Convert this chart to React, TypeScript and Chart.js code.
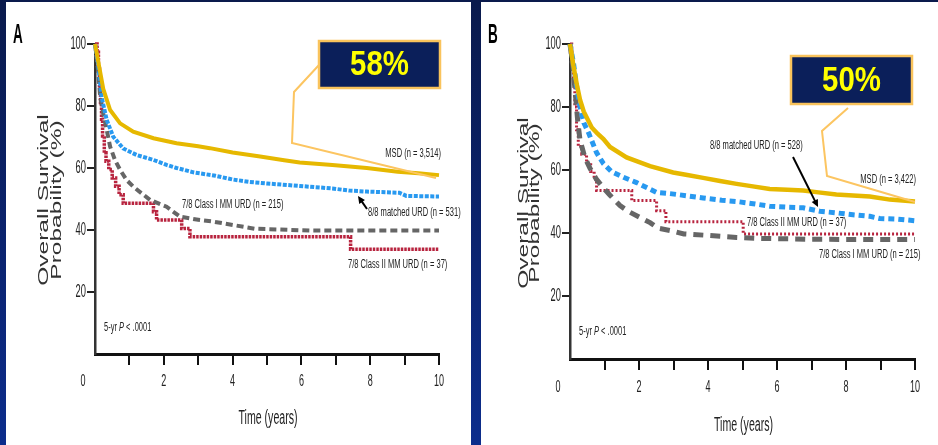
import React, { useEffect, useRef } from "react";
import { Chart, registerables } from "chart.js";

Chart.register(...registerables);

// ---------- shared axis text ----------
const xTickValues = [0, 2, 4, 6, 8, 10];
const yTickValues = [20, 40, 60, 80, 100];
const xAxisTitle = "Time (years)";
const yAxisTitle = ["Overall Survival", "Probability (%)"];
const pValueText = ["5-yr ", "P", " < .0001"];
const panelLetters = ["A", "B"];
const calloutValues = ["58%", "50%"];

// ---------- Panel A data (time in years, survival %) ----------
const aSeriesLabels = [
  "MSD (n = 3,514)",
  "8/8 matched URD (n = 531)",
  "7/8 Class I MM URD (n = 215)",
  "7/8 Class II MM URD (n = 37)",
];
const aMsdTime = [0, 0.1, 0.24, 0.44, 0.73, 1.11, 1.7, 2.37, 3.0, 3.34, 4.0, 4.8, 5.5, 5.95, 6.9, 7.9, 8.8, 9.4, 10];
const aMsdSurv = [100, 94, 85.5, 78.7, 74.4, 71.7, 69.6, 68, 67, 66.4, 65, 63.7, 62.5, 61.8, 61, 60, 58.8, 58.3, 57.7];
const aMatchedTime = [0, 0.1, 0.19, 0.34, 0.53, 0.82, 1.21, 1.7, 2.08, 2.37, 2.86, 3.5, 4.0, 4.5, 5.0, 5.95, 6.9, 7.4, 7.9, 8.85, 9.05, 10];
const aMatchedSurv = [100, 92.7, 83, 75.5, 70.1, 66.3, 64.2, 62.6, 61, 60, 58.6, 57.5, 56.3, 55.5, 55, 54.2, 53.4, 52.7, 52.4, 52, 51, 50.8];
const aClassITime = [0, 0.1, 0.15, 0.24, 0.34, 0.44, 0.58, 0.73, 0.92, 1.11, 1.36, 1.6, 2.08, 2.47, 3.05, 3.44, 4.02, 4.65, 6.3, 10];
const aClassISurv = [100, 90.5, 83, 77.6, 72.3, 66.9, 62.6, 59.4, 56.1, 54, 51.8, 49.7, 47.5, 44.3, 43.2, 42.7, 41.6, 40.4, 39.8, 39.8];
const aClassIITime = [0, 0.06, 0.1, 0.13, 0.16, 0.19, 0.22, 0.27, 0.32, 0.4, 0.5, 0.6, 0.7, 0.82, 1.7, 1.79, 2.52, 2.76, 7.43, 10];
const aClassIISurv = [100, 97.3, 91.9, 86.5, 81.1, 75.7, 70.3, 64.9, 62.2, 59.5, 56.8, 54.1, 51.4, 48.6, 45.9, 43.2, 40.5, 37.8, 33.8, 33.8];

// ---------- Panel B data ----------
const bSeriesLabels = [
  "MSD (n = 3,422)",
  "8/8 matched URD (n = 528)",
  "7/8 Class I MM URD (n = 215)",
  "7/8 Class II MM URD (n = 37)",
];
const bMsdTime = [0, 0.1, 0.2, 0.29, 0.4, 0.63, 0.8, 0.97, 1.16, 1.64, 1.93, 2.32, 2.99, 3.4, 3.86, 4.35, 4.83, 5.3, 5.79, 6.3, 6.76, 7.2, 7.72, 8.2, 8.69, 9.27, 10];
const bMsdSurv = [100, 93, 87, 82.3, 78.5, 73.5, 71.5, 69.8, 67.3, 64, 62.8, 61.2, 59.2, 58.4, 57.5, 56.5, 55.6, 54.8, 54, 53.7, 53.5, 52.9, 52.2, 51.9, 51.6, 50.6, 50];
const bMatchedTime = [0, 0.1, 0.2, 0.29, 0.4, 0.55, 0.77, 0.97, 1.2, 1.55, 1.93, 2.3, 2.51, 2.9, 3.4, 3.86, 4.4, 4.83, 5.31, 5.79, 6.3, 6.76, 7.24, 7.72, 8.2, 8.69, 8.98, 9.5, 10];
const bMatchedSurv = [100, 94, 86, 80, 75, 71.5, 65.5, 62, 59.5, 57.7, 56, 54, 52.9, 52.5, 51.8, 51.1, 50.4, 50, 49.3, 48.5, 48.2, 48, 46.9, 46.4, 45.8, 45.3, 44.6, 44.4, 43.9];
const bClassITime = [0, 0.08, 0.15, 0.22, 0.29, 0.43, 0.58, 0.77, 0.97, 1.16, 1.45, 1.7, 2.05, 2.32, 2.56, 2.9, 3.3, 3.9, 4.83, 5.5, 7.0, 10];
const bClassISurv = [100, 93, 85, 76, 69.5, 64, 60.5, 57, 54.3, 52, 48.7, 46.8, 44.8, 43.3, 41.5, 40.8, 39.7, 39.3, 38.6, 38.3, 38, 37.9];
const bClassIITime = [0, 0.05, 0.1, 0.14, 0.19, 0.24, 0.34, 0.48, 0.6, 0.7, 0.77, 1.79, 2.51, 2.78, 5.02, 10];
const bClassIISurv = [100, 95, 88, 80, 72.8, 67.5, 65, 62.2, 59.5, 57, 53.5, 50.3, 47.1, 43.6, 39.7, 39.7];

const FONT = '"Liberation Sans", Arial, sans-serif';
const GOLD = "#e6b800";
const BLUE = "#2899f0";
const GREY = "#666666";
const RED = "#b8243f";
const INK = "#222222";

type TxtOpt = {
  size: number;
  sx?: number;
  bold?: boolean;
  italic?: boolean;
  color?: string;
  align?: CanvasTextAlign;
  baseline?: CanvasTextBaseline;
  rot?: boolean;
};

function txt(ctx: CanvasRenderingContext2D, s: string, x: number, y: number, o: TxtOpt) {
  ctx.save();
  ctx.font = `${o.italic ? "italic " : ""}${o.bold ? "bold " : ""}${o.size}px ${FONT}`;
  ctx.fillStyle = o.color || INK;
  ctx.textAlign = o.align || "left";
  ctx.textBaseline = o.baseline || "middle";
  ctx.translate(x, y);
  ctx.scale(o.sx ?? 1, 1);
  if (o.rot) ctx.rotate(-Math.PI / 2);
  ctx.fillText(s, 0, 0);
  ctx.restore();
}

function runs(ctx: CanvasRenderingContext2D, parts: string[], italicIdx: number, x: number, y: number, size: number, sx: number) {
  let cx = x;
  parts.forEach((p, i) => {
    const it = i === italicIdx;
    ctx.save();
    ctx.font = `${it ? "italic " : ""}${size}px ${FONT}`;
    const w = ctx.measureText(p).width * sx;
    ctx.restore();
    txt(ctx, p, cx, y, { size, sx, italic: it });
    cx += w;
  });
}

function arrow(ctx: CanvasRenderingContext2D, x1: number, y1: number, x2: number, y2: number) {
  ctx.save();
  ctx.strokeStyle = "#000";
  ctx.fillStyle = "#000";
  ctx.lineWidth = 2;
  const ang = Math.atan2(y2 - y1, x2 - x1);
  const hx = x2 - Math.cos(ang) * 6;
  const hy = y2 - Math.sin(ang) * 6;
  ctx.beginPath();
  ctx.moveTo(x1, y1);
  ctx.lineTo(hx, hy);
  ctx.stroke();
  ctx.beginPath();
  ctx.moveTo(x2, y2);
  ctx.lineTo(x2 - Math.cos(ang - 0.45) * 8, y2 - Math.sin(ang - 0.45) * 8);
  ctx.lineTo(x2 - Math.cos(ang + 0.45) * 8, y2 - Math.sin(ang + 0.45) * 8);
  ctx.closePath();
  ctx.fill();
  ctx.restore();
}

type Panel = {
  letter: string;
  callout: string;
  width: number;
  area: { left: number; right: number; top: number; bottom: number };
  series: { label: string; t: number[]; v: number[]; color: string; width: number; dash: number[]; stepped?: boolean }[];
  labels: { i: number; x: number; y: number; align: CanvasTextAlign }[];
  arrow: number[];
  box: number[];
  line: number[];
  pY: number;
  yTitleX: number[];
  yTitleY: number;
  xTitleY: number;
  xLabelY: number;
  letterX: number;
};

const panelA: Panel = {
  letter: panelLetters[0],
  callout: calloutValues[0],
  width: 470,
  area: { left: 95, right: 439, top: 44, bottom: 354 },
  series: [
    { label: aSeriesLabels[0], t: aMsdTime, v: aMsdSurv, color: GOLD, width: 4, dash: [] },
    { label: aSeriesLabels[1], t: aMatchedTime, v: aMatchedSurv, color: BLUE, width: 4, dash: [4, 1.5] },
    { label: aSeriesLabels[2], t: aClassITime, v: aClassISurv, color: GREY, width: 4, dash: [7, 4] },
    { label: aSeriesLabels[3], t: aClassIITime, v: aClassIISurv, color: RED, width: 3.5, dash: [2.5, 1], stepped: true },
  ],
  labels: [
    { i: 0, x: 441, y: 154, align: "right" },
    { i: 1, x: 368, y: 213, align: "left" },
    { i: 2, x: 182, y: 205, align: "left" },
    { i: 3, x: 348, y: 265, align: "left" },
  ],
  arrow: [367, 209, 358, 196],
  box: [319, 41, 121, 47],
  line: [319, 65, 294, 92, 292, 143, 436, 178],
  pY: 328,
  yTitleX: [44, 57],
  yTitleY: 200,
  xTitleY: 418,
  xLabelY: 381,
  letterX: 13,
};

const panelB: Panel = {
  letter: panelLetters[1],
  callout: calloutValues[1],
  width: 468,
  area: { left: 100, right: 445, top: 44, bottom: 359 },
  series: [
    { label: bSeriesLabels[0], t: bMsdTime, v: bMsdSurv, color: GOLD, width: 4.5, dash: [] },
    { label: bSeriesLabels[1], t: bMatchedTime, v: bMatchedSurv, color: BLUE, width: 5, dash: [6, 4] },
    { label: bSeriesLabels[2], t: bClassITime, v: bClassISurv, color: GREY, width: 5, dash: [10, 7] },
    { label: bSeriesLabels[3], t: bClassIITime, v: bClassIISurv, color: RED, width: 3, dash: [2, 2], stepped: true },
  ],
  labels: [
    { i: 0, x: 446, y: 180, align: "right" },
    { i: 1, x: 240, y: 146, align: "left" },
    { i: 2, x: 349, y: 255, align: "left" },
    { i: 3, x: 277, y: 223, align: "left" },
  ],
  arrow: [323, 157, 348, 207],
  box: [321, 56, 121, 48],
  line: [378, 108, 352, 131, 357, 176, 445, 202],
  pY: 332,
  yTitleX: [54, 65],
  yTitleY: 203,
  xTitleY: 425,
  xLabelY: 387,
  letterX: 18,
};

function makeChart(canvas: HTMLCanvasElement, p: Panel) {
  const H = 445;
  const yW = 12;
  const xH = 14;
  const decor = {
    id: "decor",
    afterDraw(chart: any) {
      const ctx = chart.ctx as CanvasRenderingContext2D;
      const xs = chart.scales.x;
      const ys = chart.scales.y;
      // tick labels
      xTickValues.forEach((v) => {
        let px = xs.getPixelForValue(v);
        if (v === 0) px -= 12;
        txt(ctx, String(v), px, p.xLabelY, { size: 17, sx: 0.53, align: "center" });
      });
      yTickValues.forEach((v) => {
        txt(ctx, String(v), xs.left - 9, ys.getPixelForValue(v), { size: 18, sx: 0.52, align: "right" });
      });
      // axis titles
      txt(ctx, xAxisTitle, (xs.left + xs.right) / 2 + 1, p.xTitleY, { size: 20, sx: 0.53, align: "center" });
      yAxisTitle.forEach((s, i) => {
        txt(ctx, s, p.yTitleX[i], p.yTitleY, { size: 24.5, sx: 0.6, align: "center", rot: true, color: "#333" });
      });
      // panel letter
      txt(ctx, p.letter, p.letterX, 43, { size: 27, sx: 0.5, bold: true, baseline: "alphabetic", color: "#000" });
      // p value
      runs(ctx, pValueText, 1, xs.left + 9, p.pY, 12.5, 0.6);
      // series labels
      p.labels.forEach((l) => {
        txt(ctx, p.series[l.i].label, l.x, l.y, { size: 12, sx: 0.63, align: l.align });
      });
      arrow(ctx, p.arrow[0], p.arrow[1], p.arrow[2], p.arrow[3]);
      // callout line
      ctx.save();
      ctx.strokeStyle = "#fcc561";
      ctx.lineWidth = 2;
      ctx.lineJoin = "miter";
      ctx.beginPath();
      ctx.moveTo(p.line[0], p.line[1]);
      for (let k = 2; k < p.line.length; k += 2) ctx.lineTo(p.line[k], p.line[k + 1]);
      ctx.stroke();
      // callout box
      const [bx, by, bw, bh] = p.box;
      ctx.fillStyle = "#0b1f5a";
      ctx.fillRect(bx, by, bw, bh);
      ctx.strokeStyle = "#f9c35c";
      ctx.lineWidth = 2.5;
      ctx.strokeRect(bx, by, bw, bh);
      ctx.restore();
      txt(ctx, p.callout, bx + bw / 2, by + bh / 2 + 1, { size: 35, sx: 0.84, bold: true, align: "center", color: "#ffff00" });
    },
  };

  return new Chart(canvas, {
    type: "line",
    data: {
      datasets: p.series.map((s) => ({
        label: s.label,
        data: s.t.map((t, k) => ({ x: t, y: s.v[k] })),
        borderColor: s.color,
        backgroundColor: s.color,
        borderWidth: s.width,
        borderDash: s.dash,
        borderCapStyle: "butt",
        borderJoinStyle: "miter",
        pointRadius: 0,
        tension: 0,
        fill: false,
        stepped: s.stepped ? "before" : false,
        clip: false,
      })) as any,
    },
    options: {
      responsive: false,
      animation: false,
      events: [],
      layout: {
        padding: {
          left: p.area.left - yW,
          right: p.width - p.area.right,
          top: p.area.top,
          bottom: H - p.area.bottom - xH,
        },
      },
      plugins: { legend: { display: false }, tooltip: { enabled: false }, title: { display: false } },
      scales: {
        x: {
          type: "linear",
          min: 0,
          max: 10,
          ticks: { display: false, stepSize: 1 },
          grid: {
            drawOnChartArea: false,
            drawTicks: true,
            tickLength: 11,
            lineWidth: 2,
            color: (c: any) => (c.tick && c.tick.value === 0 ? "rgba(0,0,0,0)" : "#111"),
          },
          border: { display: true, color: "#111", width: 3 },
          afterFit: (s: any) => {
            s.height = xH;
          },
        },
        y: {
          type: "linear",
          min: 0,
          max: 100,
          ticks: { display: false, stepSize: 20 },
          afterBuildTicks: (s: any) => {
            s.ticks = s.ticks.filter((t: any) => t.value > 0);
          },
          grid: { drawOnChartArea: false, drawTicks: true, tickLength: 8, lineWidth: 2, color: "#222" },
          border: { display: true, color: "#333", width: 2.5 },
          afterFit: (s: any) => {
            s.width = yW;
          },
        },
      },
    } as any,
    plugins: [decor],
  });
}

function PanelChart({ p, left }: { p: Panel; left: number }) {
  const ref = useRef<HTMLCanvasElement | null>(null);
  useEffect(() => {
    if (!ref.current) return;
    const c = makeChart(ref.current, p);
    return () => c.destroy();
  }, [p]);
  return (
    <canvas
      ref={ref}
      width={p.width}
      height={445}
      style={{ position: "absolute", left, top: 0, width: p.width, height: 445 }}
    />
  );
}

export default function App() {
  return (
    <div
      style={{
        position: "fixed",
        left: 0,
        top: 0,
        width: 938,
        height: 445,
        overflow: "hidden",
        background: "linear-gradient(180deg, #0a1a4c 0%, #0b2472 60%, #0c2d8c 100%)",
      }}
    >
      <div style={{ position: "absolute", left: 6, top: 2, width: 465, height: 443, background: "#ffffff" }} />
      <div style={{ position: "absolute", left: 481, top: 2, width: 457, height: 443, background: "#ffffff" }} />
      <PanelChart p={panelA} left={0} />
      <PanelChart p={panelB} left={470} />
    </div>
  );
}
